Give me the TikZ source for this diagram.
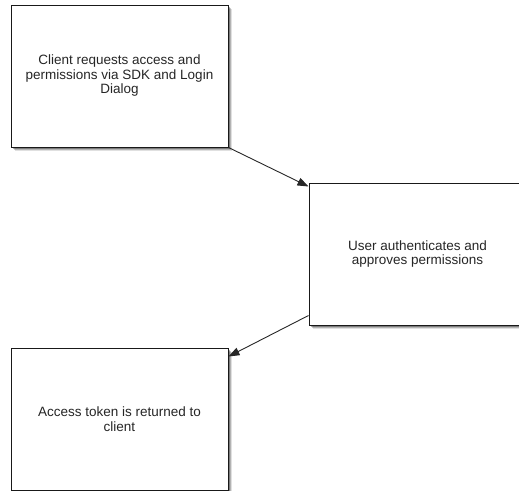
\documentclass[tikz,border=0pt]{standalone}
\usepackage{fontspec}
\setmainfont{Liberation Sans}
\usepackage{tikz}
\usetikzlibrary{positioning, arrows.meta, shadows}

\begin{document}
\begin{tikzpicture}[x=1pt, y=1pt,
    block/.style={rectangle, draw=black!90, line width=1pt, fill=white, align=center,
        minimum width=217pt, minimum height=142pt, text=black!85,
        font=\fontsize{13.5}{14.5}\selectfont,
        drop shadow={shadow xshift=4pt, shadow yshift=-4pt, fill=black, opacity=0.12},
        drop shadow={shadow xshift=3pt, shadow yshift=-3pt, fill=black, opacity=0.2},
        drop shadow={shadow xshift=2pt, shadow yshift=-2pt, fill=black, opacity=0.3}},
    arrow/.style={-{Triangle[length=11pt, width=8pt]}, line width=0.9pt, black!85}]
\useasboundingbox (0,0) rectangle (519,-490);

% Nodes
\node [block] (client) at (119.5,-76) {Client requests access and\\permissions via SDK and Login\\Dialog};
\node [block, below right=35pt and 80pt of client] (user) {User authenticates and\\approves permissions};
\node [block, below left=22pt and 80pt of user] (token) {Access token is returned to\\client};

% Arrows
\draw [arrow] (client.south east) -- ([yshift=-4pt]user.north west);
\draw [arrow] ([yshift=10pt]user.south west) -- ([yshift=-9pt]token.north east);

\end{tikzpicture}
\end{document}
